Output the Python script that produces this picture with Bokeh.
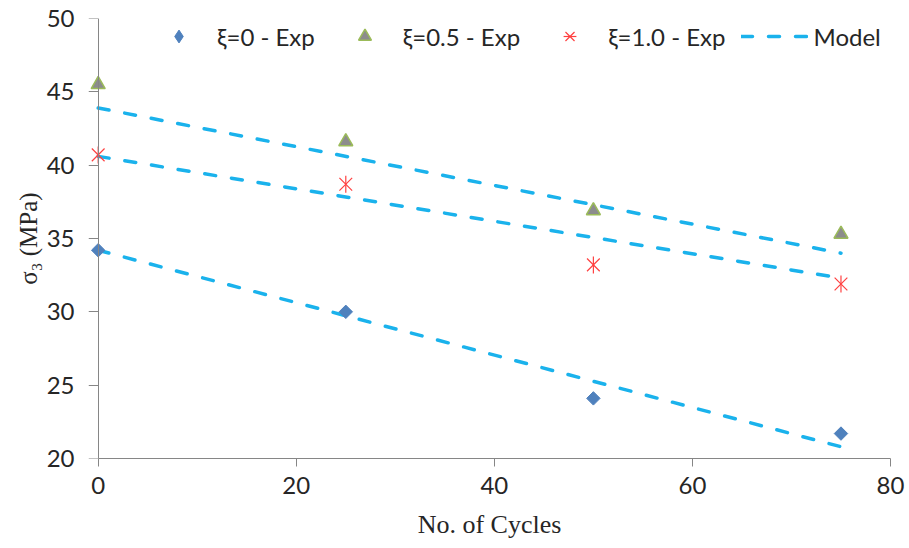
import math
from bokeh.plotting import figure
from bokeh.models import Range1d, FixedTicker, Legend, LegendItem, LinearAxis
from bokeh.embed import file_html
from bokeh.resources import INLINE

# ---- data ----
cycles = [0, 25, 50, 75]
exp_xi0 = [34.2, 30.0, 24.1, 21.7]
exp_xi05 = [45.5, 41.6, 36.9, 35.3]
exp_xi10 = [40.7, 38.7, 33.2, 31.9]

model_cycles = [0, 75]
model_xi0 = [34.2, 20.8]
model_xi05 = [43.9, 34.0]
model_xi10 = [40.6, 32.3]

x_ticks = [0, 20, 40, 60, 80]
y_ticks = [20, 25, 30, 35, 40, 45, 50]
labels = ["ξ=0 - Exp", "ξ=0.5 - Exp", "ξ=1.0 - Exp", "Model"]

AXIS_GRAY = "#868686"
MODEL_BLUE = "#1AB2EC"
TEXT = "#262626"

# a little room left of x=0 so markers sitting on the y axis are not clipped
X_PAD = 0.979

p = figure(width=909, height=548, output_backend="svg", toolbar_location=None,
           x_range=Range1d(-X_PAD, 80), y_range=Range1d(20, 50),
           min_border_left=88, min_border_right=19,
           min_border_top=18, min_border_bottom=90)
p.outline_line_color = None
p.xgrid.visible = False
p.ygrid.visible = False
p.background_fill_color = "white"
p.border_fill_color = "white"

p.xaxis.ticker = FixedTicker(ticks=x_ticks)
p.yaxis.ticker = FixedTicker(ticks=y_ticks)
p.xaxis.bounds = (0, 80)
p.xaxis.axis_label = "No. of Cycles"
p.yaxis.axis_label = "σ₃ (MPa)"
for ax in (p.xaxis[0], p.yaxis[0]):
    ax.axis_line_color = AXIS_GRAY
    ax.major_tick_line_color = AXIS_GRAY
    ax.major_tick_in = 0
    ax.minor_tick_line_color = None
    ax.major_label_text_font = "Lato"
    ax.major_label_text_font_size = "24px"
    ax.major_label_text_color = TEXT
    ax.axis_label_text_font = "Liberation Serif"
    ax.axis_label_text_font_style = "normal"
    ax.axis_label_text_color = TEXT
p.xaxis.axis_label_text_font_size = "26px"
p.yaxis.axis_label_text_font_size = "25px"
p.xaxis.major_tick_out = 8
p.xaxis.major_label_standoff = 10
p.xaxis.axis_label_standoff = 13

# left axis: only tick labels and title (line/ticks drawn by the axis at x=0)
p.yaxis.axis_line_color = None
p.yaxis.major_tick_line_color = None
p.yaxis.major_tick_out = 0
p.yaxis.major_label_standoff = 14
p.yaxis.axis_label_standoff = 2

# visible y axis line + ticks placed exactly at x = 0
yline = LinearAxis(fixed_location=0, ticker=FixedTicker(ticks=y_ticks),
                   axis_line_color=AXIS_GRAY, major_tick_line_color=AXIS_GRAY,
                   major_tick_in=10, major_tick_out=0, minor_tick_line_color=None,
                   major_label_text_font_size="0px", major_label_standoff=0,
                   major_label_text_alpha=0)
p.add_layout(yline, "right")

ml = []
for m in (model_xi0, model_xi05, model_xi10):
    ml.append(p.line(model_cycles, m, line_color=MODEL_BLUE, line_width=3.5,
                     line_dash="11 16", line_cap="round"))

r0 = p.scatter(cycles, exp_xi0, marker="square", angle=math.pi / 4, size=9.5,
               fill_color="#4F81BD", line_color="#4F81BD")
r05 = p.scatter(cycles, exp_xi05, marker="triangle", size=14,
                fill_color="#8C8C8C", line_color="#9BBB59", line_width=1.5)
r10a = p.scatter(cycles, exp_xi10, marker="x", size=18,
                 line_color="#FF4040", line_width=1.2)
r10b = p.scatter(cycles, exp_xi10, marker="dash", angle=math.pi / 2, size=17,
                 line_color="#FF4040", line_width=1.2)
# legend-only diamond key (a single point that is not drawn)
key0 = p.scatter([float("nan")], [float("nan")], marker="diamond", size=14,
                 fill_color="#4F81BD", line_color="#4F81BD")

legend = Legend(items=[LegendItem(label=labels[0], renderers=[key0]),
                       LegendItem(label=labels[1], renderers=[r05]),
                       LegendItem(label=labels[2], renderers=[r10a, r10b]),
                       LegendItem(label=labels[3], renderers=[ml[0]])],
                orientation="horizontal", location=(57, 406),
                glyph_width=67, glyph_height=32, label_height=32,
                label_standoff=5, spacing=16, padding=0, margin=0,
                border_line_color=None, background_fill_alpha=0,
                label_text_font="Lato", label_text_font_size="24px",
                label_text_color=TEXT)
p.add_layout(legend)

open("out.html", "w").write(file_html(p, INLINE))
